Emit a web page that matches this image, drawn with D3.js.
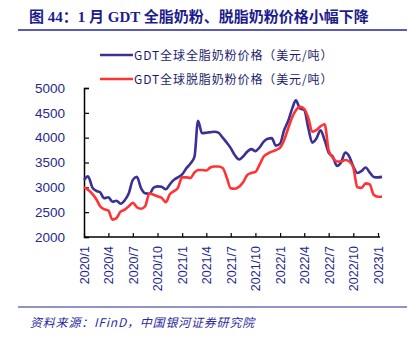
<!DOCTYPE html>
<html>
<head>
<meta charset="utf-8">
<script src="https://cdn.jsdelivr.net/npm/d3@7"></script>
<style>
  body { margin: 0; background: #fff; }
  svg { display: block; }
</style>
</head>
<body>
<svg id="chart" width="417" height="341"></svg>
<script>
// auction dates (twice a month)
var dates = [
  "2020-01-01","2020-01-16","2020-02-01","2020-02-16","2020-03-01","2020-03-16","2020-04-01","2020-04-16",
  "2020-05-01","2020-05-16","2020-06-01","2020-06-16","2020-07-01","2020-07-16","2020-08-01","2020-08-16",
  "2020-09-01","2020-09-16","2020-10-01","2020-10-16","2020-11-01","2020-11-16","2020-12-01","2020-12-16",
  "2021-01-01","2021-01-16","2021-02-01","2021-02-16","2021-03-01","2021-03-16","2021-04-01","2021-04-16",
  "2021-05-01","2021-05-16","2021-06-01","2021-06-16","2021-07-01","2021-07-16","2021-08-01","2021-08-16",
  "2021-09-01","2021-09-16","2021-10-01","2021-10-16","2021-11-01","2021-11-16","2021-12-01","2021-12-16",
  "2022-01-01","2022-01-16","2022-02-01","2022-02-16","2022-03-01","2022-03-16","2022-04-01","2022-04-16",
  "2022-05-01","2022-05-16","2022-06-01","2022-06-16","2022-07-01","2022-07-16","2022-08-01","2022-08-16",
  "2022-09-01","2022-09-16","2022-10-01","2022-10-16","2022-11-01","2022-11-16","2022-12-01","2022-12-16",
  "2023-01-01","2023-01-16"
];

// GDT 全脂奶粉 (WMP)
var wmp = [
  3150,3220,3000,2930,2900,2780,2800,2710,2730,2670,2740,2880,3150,3210,2980,2880,
  2870,2990,3020,3010,2960,3060,3150,3200,3260,3380,3480,3620,4340,4090,4100,4110,
  4120,4100,4000,3900,3790,3650,3560,3620,3720,3770,3730,3800,3920,3980,3990,3840,
  3880,4150,4350,4600,4750,4590,4560,4200,3900,3980,4150,3950,3700,3620,3430,3500,
  3700,3620,3420,3290,3330,3400,3300,3210,3200,3210
];

// GDT 脱脂奶粉 (SMP)
var smp = [
  3006,2950,2870,2760,2620,2560,2530,2350,2380,2510,2550,2620,2690,2600,2570,2620,
  2880,2850,2820,2790,2700,2860,2920,2990,3200,3200,3190,3300,3350,3350,3340,3400,
  3420,3420,3390,3200,2980,2970,3010,3100,3250,3290,3310,3450,3620,3680,3720,3750,
  3800,3950,4200,4420,4550,4620,4580,4400,4120,4150,4230,4270,3750,3600,3520,3520,
  3550,3520,3400,3000,2990,3080,3060,2850,2810,2810
];

var seriesNames = ["GDT全球全脂奶粉价格（美元/吨）", "GDT全球脱脂奶粉价格（美元/吨）"];
var seriesColors = ["#3b3093", "#ff3333"];
var yTicks = [2000, 2500, 3000, 3500, 4000, 4500, 5000];
var xTickDates = ["2020-01-01","2020-04-01","2020-07-01","2020-10-01","2021-01-01","2021-04-01",
  "2021-07-01","2021-10-01","2022-01-01","2022-04-01","2022-07-01","2022-10-01","2023-01-01"];

var navy = "#1f2a8c";
var parse = d3.timeParse("%Y-%m-%d");
var svg = d3.select("#chart");

// title
svg.append("text")
  .attr("x", 29).attr("y", 22)
  .style("font-family", "'Liberation Serif','Noto Sans CJK SC',serif")
  .style("font-weight", "bold")
  .style("font-size", "15px")
  .style("fill", "#1c1c8c")
  .text("图 44：1 月 GDT 全脂奶粉、脱脂奶粉价格小幅下降");
svg.append("line")
  .attr("x1", 18).attr("x2", 407).attr("y1", 30).attr("y2", 30)
  .style("stroke", "#2424a0").style("stroke-width", 1.5);

var x = d3.scaleTime()
  .domain([parse("2020-01-01"), parse("2023-01-01")])
  .range([84, 378]);
var y = d3.scaleLinear().domain([2000, 5000]).range([237, 88]);

// axes
var yAxis = d3.axisLeft(y).tickValues(yTicks).tickSize(-5).tickPadding(19)
  .tickFormat(d3.format("d"));
var gy = svg.append("g").attr("transform", "translate(84,0)").call(yAxis);
gy.select(".domain").style("stroke", "#000").style("stroke-width", 1.5);
gy.selectAll("line").style("stroke", "#000").style("stroke-width", 1.2);
gy.selectAll("text")
  .style("font-family", "'Liberation Sans',Arial,sans-serif")
  .style("font-size", "13.5px").style("fill", navy);

var xAxis = d3.axisBottom(x).tickValues(xTickDates.map(parse)).tickSize(-4)
  .tickFormat(d3.timeFormat("%Y/%-m"));
var gx = svg.append("g").attr("transform", "translate(0,237)").call(xAxis);
gx.select(".domain").attr("d", "M84,0H380").style("stroke", "#000").style("stroke-width", 1.5);
gx.selectAll("line").style("stroke", "#000").style("stroke-width", 1.2);
gx.selectAll("text")
  .attr("transform", "rotate(-90)")
  .attr("x", -9).attr("y", 0).attr("dy", "0.35em")
  .style("text-anchor", "end")
  .style("font-family", "'Liberation Sans',Arial,sans-serif")
  .style("font-size", "12.5px").style("fill", navy);

// lines
var line = d3.line()
  .x(function (d) { return x(d[0]); })
  .y(function (d) { return y(d[1]); })
  .curve(d3.curveMonotoneX);

[wmp, smp].forEach(function (vals, i) {
  var pts = dates.map(function (d, j) { return [parse(d), vals[j]]; });
  svg.append("path")
    .datum(pts)
    .attr("d", line)
    .style("fill", "none")
    .style("stroke", seriesColors[i])
    .style("stroke-width", 2.6)
    .style("stroke-linejoin", "round");
});

// legend
var legend = svg.append("g");
seriesNames.forEach(function (name, i) {
  var ly = 55 + i * 24;
  legend.append("line")
    .attr("x1", 100).attr("x2", 133).attr("y1", ly).attr("y2", ly)
    .style("stroke", seriesColors[i]).style("stroke-width", 2.6);
  legend.append("text")
    .attr("x", 134).attr("y", ly + 4.5)
    .style("font-family", "'Noto Sans CJK SC',sans-serif")
    .style("font-size", "12px").style("letter-spacing", "0.9px")
    .style("fill", "#1a1a6e")
    .text(name);
});

// footer
svg.append("line")
  .attr("x1", 18).attr("x2", 407).attr("y1", 307).attr("y2", 307)
  .style("stroke", navy).style("stroke-width", 1.2);
svg.append("text")
  .attr("x", 30).attr("y", 327)
  .style("font-family", "'Noto Sans CJK SC',sans-serif")
  .style("font-style", "italic")
  .style("font-size", "12px").style("letter-spacing", "0.8px")
  .style("fill", "#2a2aa0")
  .text("资料来源：IFinD，中国银河证券研究院");
</script>
</body>
</html>
